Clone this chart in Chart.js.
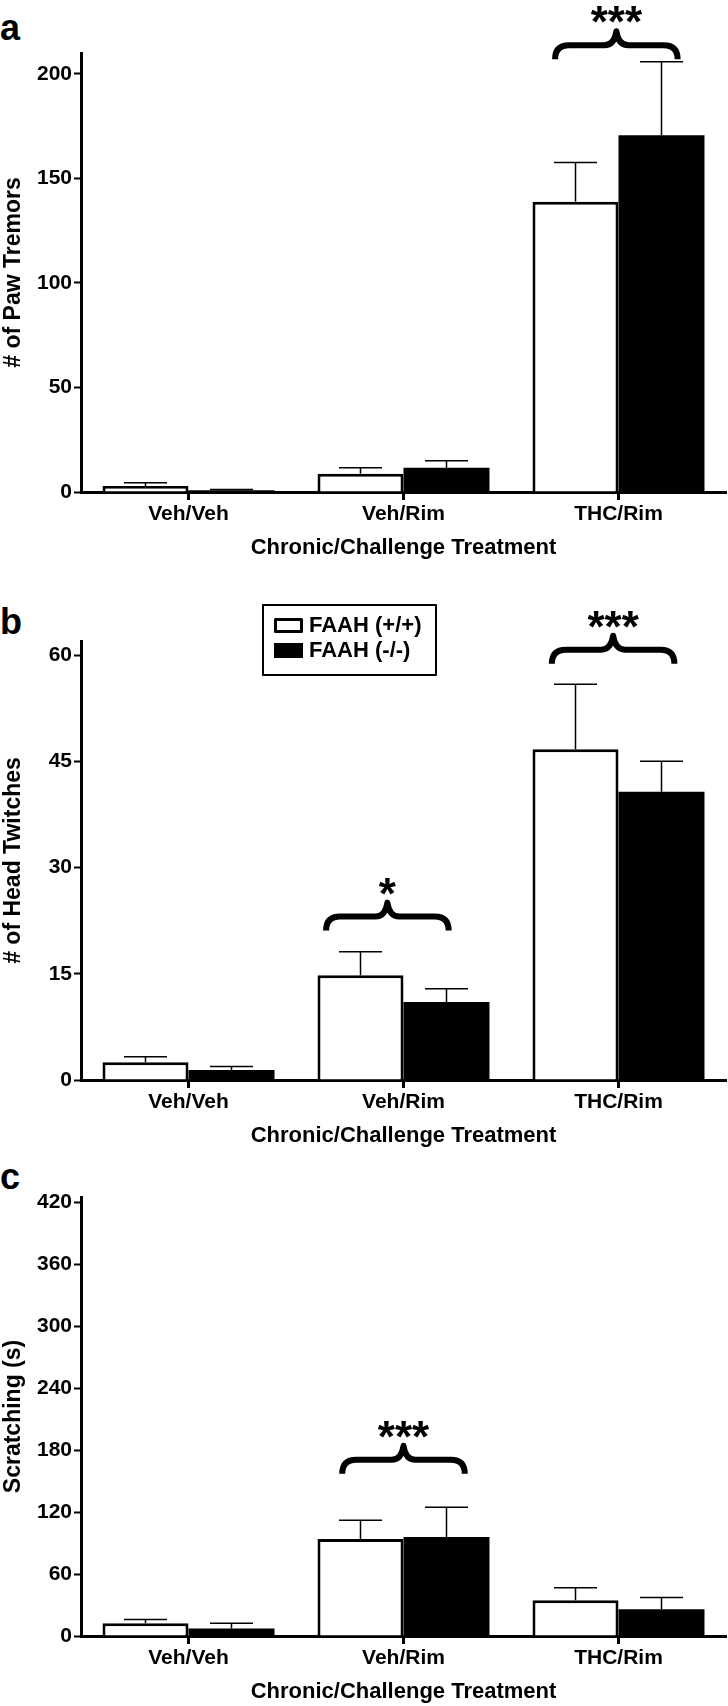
<!DOCTYPE html>
<html>
<head>
<meta charset="utf-8">
<script src="https://cdn.jsdelivr.net/npm/chart.js@4"></script>
<style>
  html, body { margin: 0; padding: 0; background: #fff; overflow: hidden; }
  body { width: 728px; height: 1706px; position: relative; font-family: 'Liberation Sans', Arial, sans-serif; }
  .panel { position: absolute; left: 0; width: 728px; }
  .tag { position: absolute; left: 0; font-weight: bold; font-size: 36px; line-height: 36px; color: #000; }
</style>
</head>
<body>
<div class="tag" style="top:10px">a</div>
<div class="tag" style="top:604px">b</div>
<div class="tag" style="top:1159px">c</div>

<div class="panel" style="top:0; height:572px"><canvas id="chartA"></canvas></div>
<div class="panel" style="top:572px; height:588px"><canvas id="chartB"></canvas></div>
<div class="panel" style="top:1160px; height:556px"><canvas id="chartC"></canvas></div>

<script>
// categorias e grupos
const categories = ['Veh/Veh', 'Veh/Rim', 'THC/Rim'];
const seriesNames = ['FAAH (+/+)', 'FAAH (-/-)'];
const xTitle = 'Chronic/Challenge Treatment';

// a - paw tremors (média e SEM)
const pawWT = [2.9, 8.7, 138.8];
const pawWTsem = [1.5, 2.9, 18.8];
const pawKO = [0.8, 11.6, 170.6];
const pawKOsem = [0.4, 3.4, 35.2];
const pawTicks = [0, 50, 100, 150, 200];
const pawMax = 210;
const pawSigCat = [2];
const pawSigY = [207];
const pawSigText = ['***'];

// b - head twitches
const headWT = [2.5, 14.8, 46.7];
const headWTsem = [0.8, 3.3, 9.2];
const headKO = [1.4, 11.0, 40.7];
const headKOsem = [0.5, 1.9, 4.3];
const headTicks = [0, 15, 30, 45, 60];
const headMax = 62;
const headSigCat = [1, 2];
const headSigY = [21.1, 58.8];
const headSigText = ['*', '***'];

// c - scratching
const scrWT = [12.3, 94.0, 34.7];
const scrWTsem = [3.6, 18.0, 11.9];
const scrKO = [7.2, 95.8, 26.0];
const scrKOsem = [5.1, 28.9, 11.2];
const scrTicks = [0, 60, 120, 180, 240, 300, 360, 420];
const scrMax = 425;
const scrSigCat = [1];
const scrSigY = [157];
const scrSigText = ['***'];

const FONT = "'Liberation Sans', Arial, sans-serif";
Chart.defaults.font.family = FONT;
Chart.defaults.color = '#000';

// chave { } com a ponta para cima
function drawBrace(ctx, L, R, yb, h) {
  const C = (L + R) / 2, ym = yb - h * 0.5, top = yb - h;
  ctx.beginPath();
  ctx.moveTo(L, yb);
  ctx.quadraticCurveTo(L, ym, L + 14, ym);
  ctx.lineTo(C - 12, ym);
  ctx.quadraticCurveTo(C - 2, ym, C, top);
  ctx.quadraticCurveTo(C + 2, ym, C + 12, ym);
  ctx.lineTo(R - 14, ym);
  ctx.quadraticCurveTo(R, ym, R, yb);
  ctx.stroke();
}

// barras de erro, chaves de significância e legenda
const extras = {
  id: 'extras',
  afterDatasetsDraw(chart, args, o) {
    const ctx = chart.ctx, xs = chart.scales.x, ys = chart.scales.y;
    ctx.save();
    ctx.strokeStyle = '#000';
    ctx.lineWidth = 1.5;
    chart.data.datasets.forEach((ds, di) => {
      chart.getDatasetMeta(di).data.forEach((bar, i) => {
        const top = ys.getPixelForValue(ds.data[i] + ds.sem[i]);
        const half = bar.width / 4;
        ctx.beginPath();
        ctx.moveTo(bar.x, bar.y);
        ctx.lineTo(bar.x, top);
        ctx.moveTo(bar.x - half, top);
        ctx.lineTo(bar.x + half, top);
        ctx.stroke();
      });
    });

    const cw = (xs.right - xs.left) / chart.data.labels.length;
    o.sigCat.forEach((c, k) => {
      const cx = xs.getPixelForValue(c) + (o.dx ? o.dx[k] : 0) * cw;
      const half = cw * 0.285;
      const yb = ys.getPixelForValue(o.sigY[k]);
      ctx.lineWidth = 6;
      ctx.lineJoin = 'round';
      drawBrace(ctx, cx - half, cx + half, yb, 28);
      ctx.fillStyle = '#000';
      ctx.font = 'bold 44px ' + FONT;
      ctx.textAlign = 'center';
      ctx.textBaseline = 'alphabetic';
      ctx.fillText(o.sigText[k], cx, yb - 22);
    });

    if (o.legend) {
      const a = chart.chartArea;
      const bx = a.left + 182, by = a.top - 36;
      ctx.lineWidth = 2;
      ctx.strokeRect(bx, by, 173, 70);
      chart.data.datasets.forEach((ds, i) => {
        const sy = by + 13 + i * 25;
        ctx.fillStyle = ds.backgroundColor;
        ctx.fillRect(bx + 11, sy, 29, 15);
        ctx.lineWidth = 3;
        ctx.strokeRect(bx + 12.5, sy + 1.5, 26, 12);
        ctx.fillStyle = '#000';
        ctx.font = 'bold 22px ' + FONT;
        ctx.textAlign = 'left';
        ctx.textBaseline = 'middle';
        ctx.fillText(ds.label, bx + 46, sy + 8);
      });
    }
    ctx.restore();
  }
};

function makePanel(id, p) {
  return new Chart(document.getElementById(id), {
    type: 'bar',
    data: {
      labels: categories,
      datasets: [
        { label: seriesNames[0], data: p.wt, sem: p.wtSem, backgroundColor: '#fff', borderColor: '#000', borderWidth: 3 },
        { label: seriesNames[1], data: p.ko, sem: p.koSem, backgroundColor: '#000', borderColor: '#000', borderWidth: 0 }
      ]
    },
    options: {
      responsive: true,
      maintainAspectRatio: false,
      animation: false,
      layout: { padding: { top: p.top, right: 2, left: 0, bottom: 0 } },
      datasets: { bar: { categoryPercentage: 0.8, barPercentage: 1 } },
      plugins: {
        legend: { display: false },
        tooltip: { enabled: false },
        extras: { sigCat: p.sigCat, sigY: p.sigY, sigText: p.sigText, dx: p.dx, legend: p.legend }
      },
      scales: {
        x: {
          grid: { offset: false, drawOnChartArea: false, drawTicks: true, tickLength: 8, tickWidth: 3, tickColor: '#000' },
          border: { display: true, color: '#000', width: 3 },
          ticks: { color: '#000', font: { size: 21, weight: 'bold' }, padding: 2 },
          title: { display: true, text: xTitle, color: '#000', font: { size: 22, weight: 'bold' }, padding: { top: 0, bottom: 11 } },
          afterFit: s => { s.height = 80; }
        },
        y: {
          min: 0,
          max: p.max,
          afterBuildTicks: s => { s.ticks = p.ticks.map(v => ({ value: v })); },
          grid: { drawOnChartArea: false, drawTicks: true, tickLength: 7, tickWidth: 2, tickColor: '#000' },
          border: { display: true, color: '#000', width: 3 },
          ticks: { color: '#000', font: { size: 21, weight: 'bold' }, padding: 2 },
          title: { display: true, text: p.yTitle, color: '#000', font: { size: 23, weight: 'bold' }, padding: 0 },
          afterFit: s => { s.width = 81; }
        }
      }
    },
    plugins: [extras]
  });
}

makePanel('chartA', {
  wt: pawWT, wtSem: pawWTsem, ko: pawKO, koSem: pawKOsem,
  ticks: pawTicks, max: pawMax, yTitle: '# of Paw Tremors', top: 53,
  sigCat: pawSigCat, sigY: pawSigY, sigText: pawSigText, dx: [-0.01]
});
makePanel('chartB', {
  wt: headWT, wtSem: headWTsem, ko: headKO, koSem: headKOsem,
  ticks: headTicks, max: headMax, yTitle: '# of Head Twitches', top: 69,
  sigCat: headSigCat, sigY: headSigY, sigText: headSigText, dx: [-0.075, -0.025], legend: true
});
makePanel('chartC', {
  wt: scrWT, wtSem: scrWTsem, ko: scrKO, koSem: scrKOsem,
  ticks: scrTicks, max: scrMax, yTitle: 'Scratching (s)', top: 37,
  sigCat: scrSigCat, sigY: scrSigY, sigText: scrSigText, dx: [0]
});
</script>
</body>
</html>
